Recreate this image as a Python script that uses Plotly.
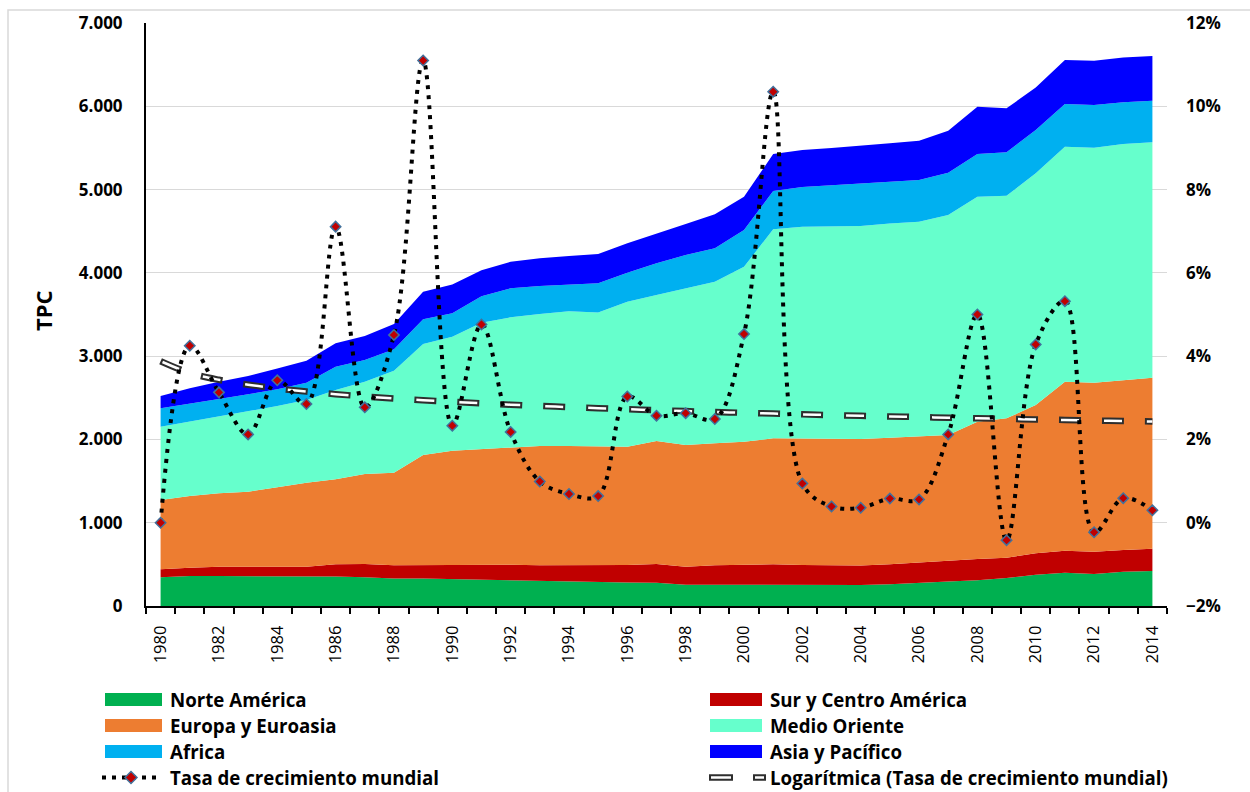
import numpy as np
import plotly.graph_objects as go

# ---------------------------------------------------------------- data
years = list(range(1980, 2015))

norte_america = [345, 360, 360, 360, 362, 360, 355, 345, 330, 330,
                 322, 320, 312, 300, 292, 288, 282, 280, 255, 255,
                 255, 258, 255, 252, 252, 262, 275, 295, 310, 335,
                 375, 400, 385, 410, 420]
sur_centro_america = [95, 100, 110, 112, 110, 112, 145, 159, 160, 162,
                      173, 175, 183, 190, 198, 202, 210, 224, 217, 235,
                      240, 242, 237, 233, 233, 238, 249, 250, 254, 245,
                      258, 264, 267, 262, 268]
europa_euroasia = [833, 861, 883, 901, 953, 1009, 1021, 1081, 1111, 1321,
                   1370, 1386, 1406, 1431, 1431, 1423, 1421, 1477, 1461, 1463,
                   1478, 1513, 1521, 1525, 1520, 1520, 1509, 1508, 1649, 1673,
                   1780, 2029, 2029, 2041, 2053]
medio_oriente = [880, 892, 928, 960, 976, 992, 1072, 1108, 1224, 1333,
                 1368, 1520, 1565, 1585, 1619, 1612, 1740, 1752, 1880, 1940,
                 2100, 2510, 2541, 2550, 2557, 2574, 2581, 2641, 2701, 2673,
                 2782, 2822, 2822, 2834, 2826]
africa = [220, 212, 204, 208, 200, 208, 280, 260, 257, 296,
          281, 319, 348, 336, 314, 349, 349, 381, 401, 401,
          441, 460, 476, 490, 505, 501, 501, 509, 513, 521,
          520, 512, 512, 500, 500]
asia_pacifico = [148, 188, 208, 220, 252, 264, 281, 289, 304, 332,
                 346, 310, 320, 332, 348, 352, 352, 360, 372, 409,
                 400, 444, 445, 449, 456, 460, 472, 504, 568, 528,
                 512, 528, 532, 540, 536]

# world growth rate, in percent
crecimiento_mundial = [0.00, 4.25, 3.13, 2.12, 3.42, 2.85, 7.11, 2.77, 4.51, 11.10,
                       2.33, 4.76, 2.18, 0.99, 0.69, 0.64, 3.03, 2.57, 2.63, 2.49,
                       4.53, 10.35, 0.94, 0.39, 0.36, 0.58, 0.56, 2.12, 5.00, -0.42,
                       4.28, 5.32, -0.23, 0.59, 0.30]

year_ticks = years[::2]
year_labels = [str(y) for y in year_ticks]

regions = ["Norte América", "Sur y Centro América", "Europa y Euroasia",
           "Medio Oriente", "Africa", "Asia y Pacífico"]
region_values = [norte_america, sur_centro_america, europa_euroasia,
                 medio_oriente, africa, asia_pacifico]
region_colors = ["#00B050", "#C00000", "#ED7D31", "#66FFCC", "#00B0F0", "#0000FF"]

growth_name = "Tasa de crecimiento mundial"
trend_name = "Logarítmica (Tasa de crecimiento mundial)"

FONT = "Open Sans"
TREND_DARK = "#2E2E2E"
MARKER_FILL = "#C00000"
MARKER_EDGE = "#41719C"

# ---------------------------------------------------------------- figure
fig = go.Figure()

for name, vals, col in zip(regions, region_values, region_colors):
    fig.add_trace(go.Scatter(
        x=years, y=vals, name=name, stackgroup="tpc", mode="lines",
        line=dict(width=0, color=col), fillcolor=col,
        showlegend=False, hoverinfo="skip"))

# logarithmic trendline fitted on the growth series: y = a*ln(n) + b
n = np.arange(1, len(years) + 1)
a, b = np.polyfit(np.log(n), np.array(crecimiento_mundial), 1)
trend = a * np.log(n) + b

fig.add_trace(go.Scatter(
    x=years, y=trend, yaxis="y2", mode="lines", name=trend_name,
    line=dict(color=TREND_DARK, width=6.5, dash="22px,21px", shape="spline"),
    showlegend=False, hoverinfo="skip"))
fig.add_trace(go.Scatter(
    x=years, y=trend, yaxis="y2", mode="lines", name=trend_name,
    line=dict(color="white", width=2.5, dash="0px,2px,18px,23px", shape="spline"),
    showlegend=False, hoverinfo="skip"))

fig.add_trace(go.Scatter(
    x=years, y=crecimiento_mundial, yaxis="y2", mode="lines+markers", name=growth_name,
    line=dict(color="black", width=4, dash="4px,6px", shape="spline", smoothing=1),
    marker=dict(symbol="diamond", size=8, color=MARKER_FILL,
                line=dict(color=MARKER_EDGE, width=1.5)),
    showlegend=False))

# ---------------------------------------------------------------- layout helpers
L, R, T, B = 146, 83, 23, 186
W, H = 1250, 792
PW, PH = W - L - R, H - T - B


def px_x(p):
    return (p - L) / PW


def px_y(p):
    return (H - B - p) / PH


shapes = []
annotations = []

# chart frame
shapes.append(dict(type="rect", xref="paper", yref="paper",
                   x0=px_x(8), x1=px_x(1262), y0=px_y(802), y1=px_y(10),
                   line=dict(color="#D9D9D9", width=1.5), fillcolor="rgba(0,0,0,0)",
                   layer="below"))

# legend
rows = [699.5, 725.5, 751.5, 777.5]
legend_font = dict(family=FONT, size=18.7, color="black", weight="bold")
cols = [(105, 162, 168), (710, 762, 768)]
for k, (name, col) in enumerate(zip(regions, region_colors)):
    c = k % 2
    r = k // 2
    x0, x1, xt = cols[c]
    shapes.append(dict(type="rect", xref="paper", yref="paper",
                       x0=px_x(x0), x1=px_x(x1),
                       y0=px_y(rows[r] + 6.5), y1=px_y(rows[r] - 6.5),
                       line=dict(width=0), fillcolor=col))
    annotations.append(dict(text=name, xref="paper", yref="paper",
                            x=px_x(xt), y=px_y(rows[r]), xanchor="left",
                            yanchor="middle", showarrow=False, font=legend_font))

# growth-rate legend entry
ry = rows[3]
shapes.append(dict(type="line", xref="paper", yref="paper",
                   x0=px_x(102), x1=px_x(160), y0=px_y(ry), y1=px_y(ry),
                   line=dict(color="black", width=4, dash="4px,6px")))
cx, hd = 131, 6
shapes.append(dict(type="path", xref="paper", yref="paper",
                   path=(f"M {px_x(cx)},{px_y(ry - hd)} L {px_x(cx + hd)},{px_y(ry)} "
                         f"L {px_x(cx)},{px_y(ry + hd)} L {px_x(cx - hd)},{px_y(ry)} Z"),
                   fillcolor=MARKER_FILL, line=dict(color=MARKER_EDGE, width=1.5)))
annotations.append(dict(text=growth_name, xref="paper", yref="paper",
                        x=px_x(168), y=px_y(ry), xanchor="left", yanchor="middle",
                        showarrow=False, font=legend_font))

# trendline legend entry
for xa, xb in [(709, 733), (753, 766)]:
    shapes.append(dict(type="line", xref="paper", yref="paper",
                       x0=px_x(xa), x1=px_x(xb), y0=px_y(ry), y1=px_y(ry),
                       line=dict(color=TREND_DARK, width=6.5)))
    shapes.append(dict(type="line", xref="paper", yref="paper",
                       x0=px_x(xa + 2), x1=px_x(xb - 2), y0=px_y(ry), y1=px_y(ry),
                       line=dict(color="white", width=2.5)))
annotations.append(dict(text=trend_name, xref="paper", yref="paper",
                        x=px_x(768), y=px_y(ry), xanchor="left", yanchor="middle",
                        showarrow=False, font=legend_font))

# left axis title
annotations.append(dict(text="TPC", xref="paper", yref="paper",
                        x=px_x(43), y=px_y(311), xanchor="center", yanchor="middle",
                        textangle=-90, showarrow=False,
                        font=dict(family=FONT, size=22, color="black", weight="bold")))

tick_bold = dict(family=FONT, size=17, color="black", weight="bold")

fig.update_layout(
    width=W, height=H, autosize=False,
    margin=dict(l=L, r=R, t=T, b=B, pad=0),
    paper_bgcolor="white", plot_bgcolor="white",
    separators=",.",
    showlegend=False,
    font=dict(family=FONT, color="black"),
    xaxis=dict(
        range=[1979.5, 2014.5], tickmode="array", tickvals=year_ticks,
        ticktext=year_labels, tickangle=-90, ticks="",
        tickfont=dict(family=FONT, size=16.5, color="black"),
        ticklabelstandoff=11,
        showline=True, linecolor="black", linewidth=2,
        showgrid=False, zeroline=False,
        minor=dict(tickmode="linear", tick0=1979.5, dtick=1, ticks="outside",
                   ticklen=6, tickcolor="black", tickwidth=1.5, showgrid=False),
    ),
    yaxis=dict(
        range=[0, 7000], tickmode="linear", tick0=0, dtick=1000, tickformat=",d",
        tickfont=tick_bold, ticks="", ticklabelstandoff=18,
        showline=True, linecolor="black", linewidth=2,
        showgrid=True, gridcolor="#D9D9D9", gridwidth=1.2, zeroline=False,
    ),
    yaxis2=dict(
        range=[-2, 12], tickmode="linear", tick0=-2, dtick=2, ticksuffix="%",
        overlaying="y", side="right", tickfont=tick_bold, ticks="",
        ticklabelstandoff=18, showline=False, showgrid=False, zeroline=False,
    ),
    shapes=shapes,
    annotations=annotations,
)

fig.write_html("out.html")
